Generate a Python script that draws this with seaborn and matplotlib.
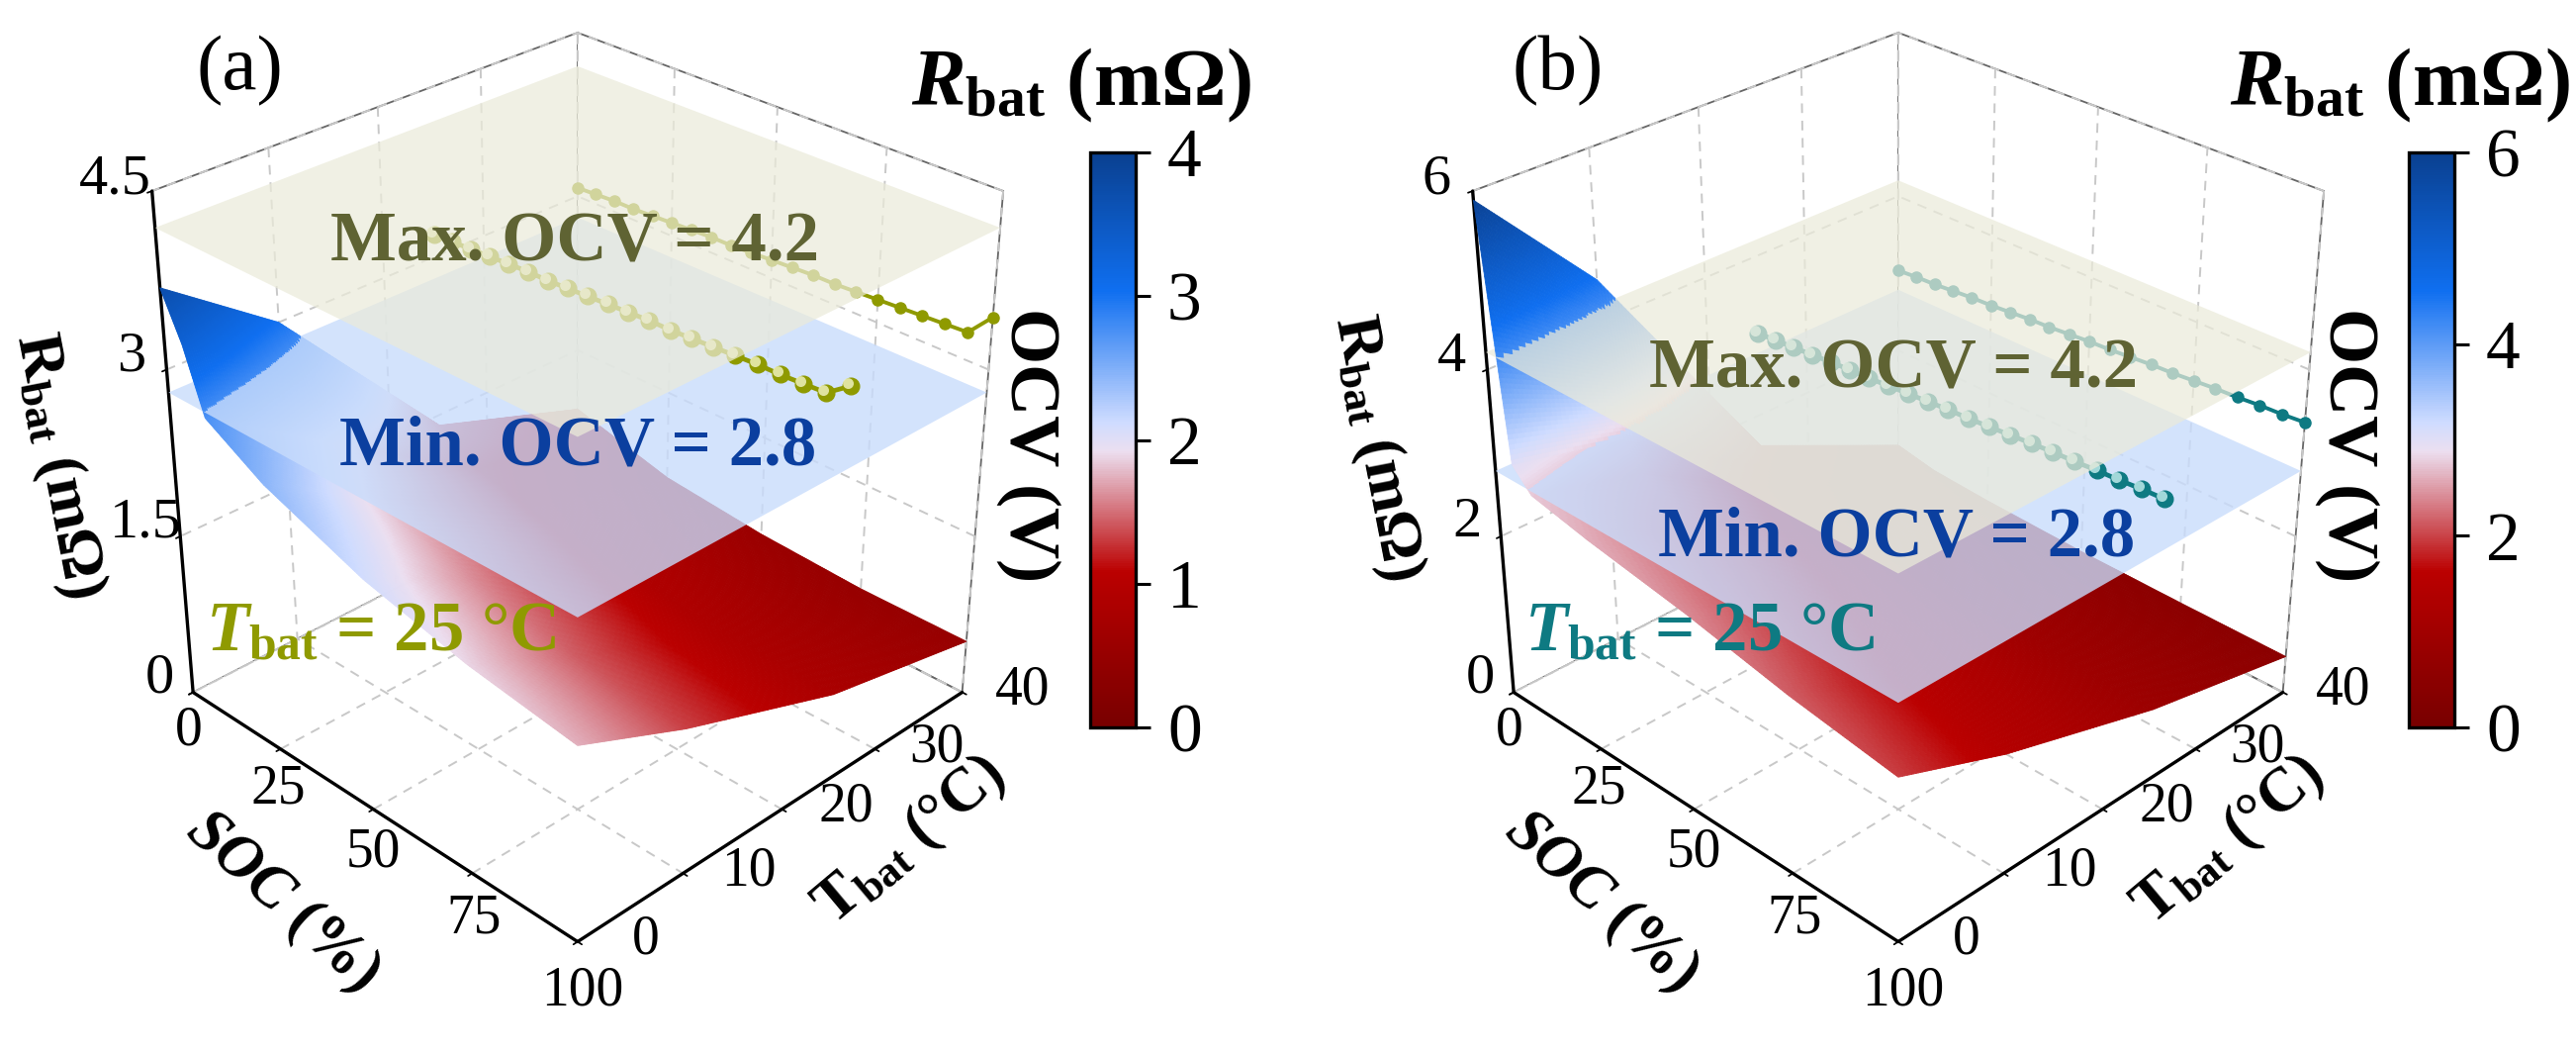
import numpy as np
import seaborn as sns
import matplotlib.pyplot as plt
from matplotlib.colors import LinearSegmentedColormap, Normalize
from matplotlib.cm import ScalarMappable
from matplotlib.path import Path
from mpl_toolkits.mplot3d.art3d import Poly3DCollection

sns.set_theme(style='white')
plt.rcParams['font.family'] = ['Liberation Serif', 'DejaVu Serif']
plt.rcParams['mathtext.fontset'] = 'custom'
plt.rcParams['mathtext.rm'] = 'Liberation Serif:bold'
plt.rcParams['mathtext.it'] = 'Liberation Serif:italic:bold'
plt.rcParams['mathtext.bf'] = 'Liberation Serif:bold'
plt.rcParams['grid.linestyle'] = (0, (5, 4))
plt.rcParams['grid.color'] = '#c8c8c8'
plt.rcParams['grid.linewidth'] = 1.4
plt.rcParams['text.color'] = 'black'

# surface, rows = SOC, columns = T
soc_grid = [0, 5, 10, 25, 50, 75, 100]
temp_grid = [0, 10, 25, 40]
rbat_a = [[3.7, 3.0, 1.4, 0.9],
          [3.3, 2.6, 1.3, 0.85],
          [2.75, 2.1, 1.15, 0.8],
          [2.44, 1.85, 1.05, 0.65],
          [2.1, 1.6, 0.92, 0.55],
          [1.88, 1.42, 0.84, 0.5],
          [1.74, 1.32, 0.8, 0.5]]
rbat_b = [[5.9, 4.5, 1.6, 0.7],
          [3.0, 2.7, 1.4, 0.65],
          [2.75, 2.4, 1.25, 0.6],
          [2.6, 2.1, 1.1, 0.55],
          [2.4, 1.85, 1.0, 0.5],
          [2.15, 1.6, 0.93, 0.48],
          [1.96, 1.46, 0.88, 0.47]]

# OCV curves at T = 25 and T = 40
soc_ocv = [0, 5, 10, 15, 20, 25, 30, 35, 40, 45, 50, 55, 60, 65, 70, 75, 80, 85, 90, 95, 100]
ocv_25_a = [3.2, 3.21, 3.22, 3.23, 3.24, 3.25, 3.25, 3.26, 3.27, 3.28, 3.29, 3.3, 3.3, 3.31, 3.32, 3.33, 3.34, 3.34, 3.35, 3.36, 3.5]
ocv_40_a = [3.08, 3.09, 3.1, 3.1, 3.11, 3.12, 3.13, 3.14, 3.14, 3.15, 3.16, 3.17, 3.18, 3.18, 3.19, 3.2, 3.21, 3.22, 3.23, 3.24, 3.45]
ocv_25_b = [3.05, 3.07, 3.09, 3.11, 3.13, 3.15, 3.16, 3.18, 3.2, 3.22, 3.24, 3.25, 3.27, 3.29, 3.31, 3.33, 3.34, 3.36, 3.37, 3.39, 3.4]
ocv_40_b = [3.05, 3.07, 3.08, 3.1, 3.12, 3.13, 3.15, 3.17, 3.18, 3.2, 3.22, 3.23, 3.25, 3.27, 3.28, 3.3, 3.32, 3.33, 3.35, 3.36, 3.38]

soc_ticks = [0, 25, 50, 75, 100]
temp_ticks = [0, 10, 20, 30, 40]
ztick_a = [0, 1.5, 3, 4.5]
ztick_b = [0, 2, 4, 6]
ocv_min, ocv_max = 2.8, 4.2

cmap = LinearSegmentedColormap.from_list('rbat', [(0, '#780000'), (0.27, '#bb0000'), (0.48, '#ecdff0'), (0.53, '#cfdcff'),
                                                  (0.76, '#0f6ff0'), (1, '#0a4090')])

gloss = Path.circle(center=(-0.16, 0.16), radius=0.3)


def refine(x, y, z, kx=50, ky=50):
    # finer mesh over the same piecewise surface, only for a smooth colour fade
    xf = np.concatenate([np.linspace(a, b, kx, endpoint=False) for a, b in zip(x[:-1], x[1:])] + [[x[-1]]])
    yf = np.concatenate([np.linspace(a, b, ky, endpoint=False) for a, b in zip(y[:-1], y[1:])] + [[y[-1]]])
    zf = np.array([np.interp(yf, y, row) for row in z])
    zf = np.array([np.interp(xf, x, col) for col in zf.T]).T
    return xf, yf, zf


def quads(xf, yf, zf):
    xx, yy = np.meshgrid(xf, yf, indexing='ij')
    pts = np.dstack([xx, yy, zf])
    return np.stack([pts[:-1, :-1], pts[1:, :-1], pts[1:, 1:], pts[:-1, 1:]], axis=2)


def draw_panel(fig, x_px, y_px, size_px, rbat, ocv25, ocv40, zticks, vmax, color, shine):
    W, H = fig.get_size_inches() * fig.dpi
    ax = fig.add_axes([x_px / W, y_px / H, size_px / W, size_px / H], projection='3d')
    ax.computed_zorder = False
    ax.set_proj_type('persp', focal_length=0.5)
    ax.view_init(elev=30, azim=-45)
    ax.set_box_aspect((1, 1, 1.01), zoom=0.915)
    ax.patch.set_alpha(0)
    zmax = zticks[-1]
    ax.set_xlim(0, 100)
    ax.set_ylim(0, 40)
    ax.set_zlim(0, zmax)
    ax.set_xticks(soc_ticks)
    ax.set_yticks(temp_ticks)
    ax.set_zticks(zticks)
    for a in (ax.xaxis, ax.yaxis, ax.zaxis):
        a.set_pane_color('white')
        a.pane.set_edgecolor('#666666')
        a.pane.set_linewidth(1.3)
        a.line.set_color('black')
        a.line.set_linewidth(2.4)
        a._axinfo['tick']['inward_factor'] = 0.12
        a._axinfo['tick']['outward_factor'] = 0.0
        a.set_tick_params(color='black', width=2, label1On=False, label2On=False)
        a.set_ticklabels([])
        a.label.set_visible(False)
    ax.zaxis.set_ticks_position('lower')

    norm = Normalize(0, vmax)
    xf, yf, zf = refine(soc_grid, temp_grid, np.array(rbat))
    cells = quads(xf, yf, zf)
    mean = cells[..., 2].mean(axis=2)
    levels = [(mean < ocv_min, 2), ((mean >= ocv_min) & (mean < ocv_max), 4), (mean >= ocv_max, 7)]
    for mask, order in levels:
        if mask.any():
            cols = cmap(norm(mean[mask]))
            poly = Poly3DCollection(cells[mask], facecolors=cols, edgecolors=cols, linewidths=0.6, zorder=order)
            ax.add_collection3d(poly)

    # the two OCV planes
    xc = [0, 100, 100, 0]
    yc = [0, 0, 40, 40]
    for z0, col, a, order in [(ocv_min, '#c8dcfc', 0.8, 3), (ocv_max, '#ebebda', 0.72, 6)]:
        plane = Poly3DCollection([list(zip(xc, yc, [z0] * 4))], facecolors=col, edgecolors='none', alpha=a, zorder=order)
        ax.add_collection3d(plane)

    ax.plot(soc_ocv, [25] * len(soc_ocv), ocv25, '-o', color=color, lw=3.4, ms=12, zorder=5)
    ax.plot(soc_ocv, [25] * len(soc_ocv), ocv25, ls='none', marker=gloss, mfc=shine, mec='none', ms=12, alpha=0.8, zorder=5)
    ax.plot(soc_ocv, [40] * len(soc_ocv), ocv40, '-o', color=color, lw=2.8, ms=8, zorder=5)

    for s in soc_ticks:
        ax.text(s + 9, -3.2, 0, str(s), fontsize=40, rotation=42, ha='center', va='center')
    for t in temp_ticks:
        ax.text(107.5, t + 3.3, 0, str(t), fontsize=40, rotation=-33, ha='center', va='center')
    for z in zticks:
        ax.text(-8, -0.6, z, f'{z:g}', fontsize=42, rotation=8, ha='center', va='center')
    return ax


fig = plt.figure(figsize=(26.04, 10.65), dpi=100)
panels = [(37, rbat_a, ocv_25_a, ocv_40_a, ztick_a, 4, '#8f9a00', '#f4f6c8', '(a)', [0, 1, 2, 3, 4]),
          (1372, rbat_b, ocv_25_b, ocv_40_b, ztick_b, 6, '#0e7a82', '#c8f0f0', '(b)', [0, 2, 4, 6])]
W, H = 2604, 1065
max_y = [246, 374]
min_y = [452, 544]
for i, (x0, rb, o25, o40, zt, vmax, col, shine, tag, cbt) in enumerate(panels):
    draw_panel(fig, x0, 59, 1065, rb, o25, o40, zt, vmax, col, shine)
    dx = 1333 * i
    cax = fig.add_axes([(1102 + dx) / W, 1 - 735 / H, 46 / W, 581 / H])
    sm = ScalarMappable(Normalize(0, vmax), cmap)
    cb = fig.colorbar(sm, cax=cax, ticks=cbt)
    cb.ax.tick_params(labelsize=50, length=11, width=2.2, color='black', direction='out', pad=12, labelcolor='black')
    cb.outline.set_linewidth(2.4)
    cb.outline.set_edgecolor('black')
    fig.text((242 + dx) / W, 1 - 72 / H, tag, fontsize=57, ha='center', va='center')
    fig.text((1093 + dx) / W, 1 - 86 / H, r'$R_{\mathrm{bat}}$ (mΩ)', fontsize=59, weight='bold', ha='center', va='center')
    fig.text((58 + dx) / W, 1 - (471 - 18 * i) / H, r'$\mathrm{R_{bat}}$ (mΩ)', fontsize=46, weight='bold', rotation=-79, ha='center', va='center')
    fig.text((1040 + dx) / W, 1 - 450 / H, 'OCV (V)', fontsize=52, weight='bold', rotation=-90, ha='center', va='center')
    fig.text((285 + dx) / W, 1 - 911 / H, r'$\mathit{SOC}$ (%)', fontsize=45, weight='bold', rotation=-42, ha='center', va='center')
    fig.text((921 + dx) / W, 1 - 850 / H, r'$\mathrm{T_{bat}}$ (°C)', fontsize=45, weight='bold', rotation=40, ha='center', va='center')
    fig.text((581 + dx) / W, 1 - max_y[i] / H, 'Max. OCV = 4.2', fontsize=51, weight='bold', color='#5f6333', ha='center', va='center')
    fig.text((584 + dx) / W, 1 - min_y[i] / H, 'Min. OCV = 2.8', fontsize=51, weight='bold', color='#0b3f9f', ha='center', va='center')
    fig.text((385 + dx) / W, 1 - 640 / H, r'$\mathit{T}_{\mathrm{bat}}$ = 25 °C', fontsize=51, weight='bold', color=col, ha='center', va='center')

fig.savefig('out.png', dpi=100)
